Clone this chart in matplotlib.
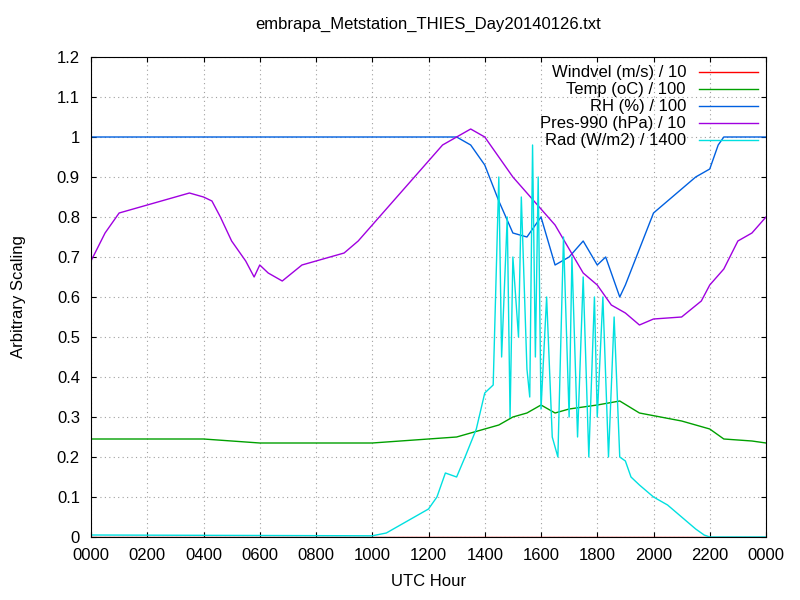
import matplotlib
matplotlib.use("Agg")
import matplotlib.pyplot as plt

temp_t = [0,4,5,6,10,11,13,13.5,14.5,15,15.5,16,16.5,17,18,18.8,19.5,21,22,22.5,23.5,24]
temp_v = [0.245,0.245,0.24,0.235,0.235,0.24,0.25,0.26,0.28,0.3,0.31,0.33,0.31,0.32,0.33,0.34,0.31,0.29,0.27,0.245,0.24,0.235]
pres_t = [0,0.5,1,1.5,2,2.5,3,3.5,4,4.3,4.6,5,5.5,5.8,6,6.3,6.8,7.5,8,9,9.5,10,10.5,11,11.5,12,12.5,13,13.5,14,14.5,15,15.5,16,16.5,17,17.5,18,18.5,19,19.5,20,21,21.7,22,22.5,23,23.5,24]
pres_v = [0.69,0.76,0.81,0.82,0.83,0.84,0.85,0.86,0.85,0.84,0.8,0.74,0.69,0.65,0.68,0.66,0.64,0.68,0.69,0.71,0.74,0.78,0.82,0.86,0.9,0.94,0.98,1.0,1.02,1.0,0.95,0.9,0.86,0.82,0.78,0.72,0.66,0.63,0.58,0.56,0.53,0.545,0.55,0.59,0.63,0.67,0.74,0.76,0.8]
rh_t = [0,13.0,13.5,14,14.5,15,15.5,16,16.5,17,17.5,18,18.3,18.8,19,19.5,20,20.5,21,21.5,22,22.3,22.5,24]
rh_v = [1.0,1.0,0.98,0.93,0.84,0.76,0.75,0.8,0.68,0.7,0.74,0.68,0.7,0.6,0.63,0.72,0.81,0.84,0.87,0.9,0.92,0.98,1.0,1.0]
rad_t = [0,10,10.5,11,11.5,12,12.3,12.6,13,13.3,13.7,14,14.3,14.5,14.6,14.8,14.9,15,15.2,15.3,15.5,15.6,15.7,15.8,15.9,16,16.2,16.4,16.6,16.8,17,17.1,17.3,17.5,17.7,17.9,18,18.2,18.4,18.6,18.8,19,19.2,19.5,20,20.5,21,21.5,21.8,22,24]
rad_v = [0.005,0.003,0.01,0.03,0.05,0.07,0.1,0.16,0.15,0.2,0.27,0.36,0.38,0.9,0.45,0.8,0.3,0.7,0.5,0.85,0.42,0.35,0.98,0.45,0.9,0.32,0.6,0.25,0.2,0.75,0.3,0.7,0.25,0.65,0.2,0.6,0.3,0.6,0.2,0.55,0.2,0.19,0.15,0.13,0.1,0.08,0.05,0.02,0.005,0.0,0.0]
wind_t = [0,24]
wind_v = [0,0]
xticklabels = ["0000","0200","0400","0600","0800","1000","1200","1400","1600","1800","2000","2200","0000"]

plt.rcParams['font.family'] = ['Liberation Sans', 'DejaVu Sans']
fig = plt.figure(figsize=(8,6), dpi=100)
ax = fig.add_axes([91/800, 1-537/600, 675/800, 480/600])
ax.plot(wind_t, wind_v, color="red", lw=1, label="Windvel (m/s) / 10")
ax.plot(temp_t, temp_v, color="#00a000", lw=1, label="Temp (oC) / 100")
ax.plot(rh_t, rh_v, color="#0060e0", lw=1, label="RH (%) / 100")
ax.plot(pres_t, pres_v, color="#a000e0", lw=1, label="Pres-990 (hPa) / 10")
ax.plot(rad_t, rad_v, color="#00e0e0", lw=1, label="Rad (W/m2) / 1400")
ax.set_xlim(0,24); ax.set_ylim(0,1.2)
ax.set_xticks(range(0,25,2)); ax.set_xticklabels(xticklabels)
ax.set_yticks([i/10 for i in range(13)])
ax.set_yticklabels(["0"]+[f"{i/10:g}" for i in range(1,13)])
ax.grid(True, color="#a0a0a0", ls=(0,(1,3)), lw=0.8)
ax.tick_params(direction="in", labelsize=12, top=True, right=True, pad=8)
ax.set_xlabel("UTC Hour", fontsize=12, labelpad=8)
ax.set_ylabel("Arbitrary Scaling", fontsize=12, labelpad=22)
ax.set_title("embrapa_Metstation_THIES_Day20140126.txt", fontsize=12, pad=20)
ax.legend(loc="upper right", frameon=False, markerfirst=False, fontsize=12,
          handlelength=3.5, labelspacing=0.12, borderaxespad=0.1)
fig.savefig("out.png")
